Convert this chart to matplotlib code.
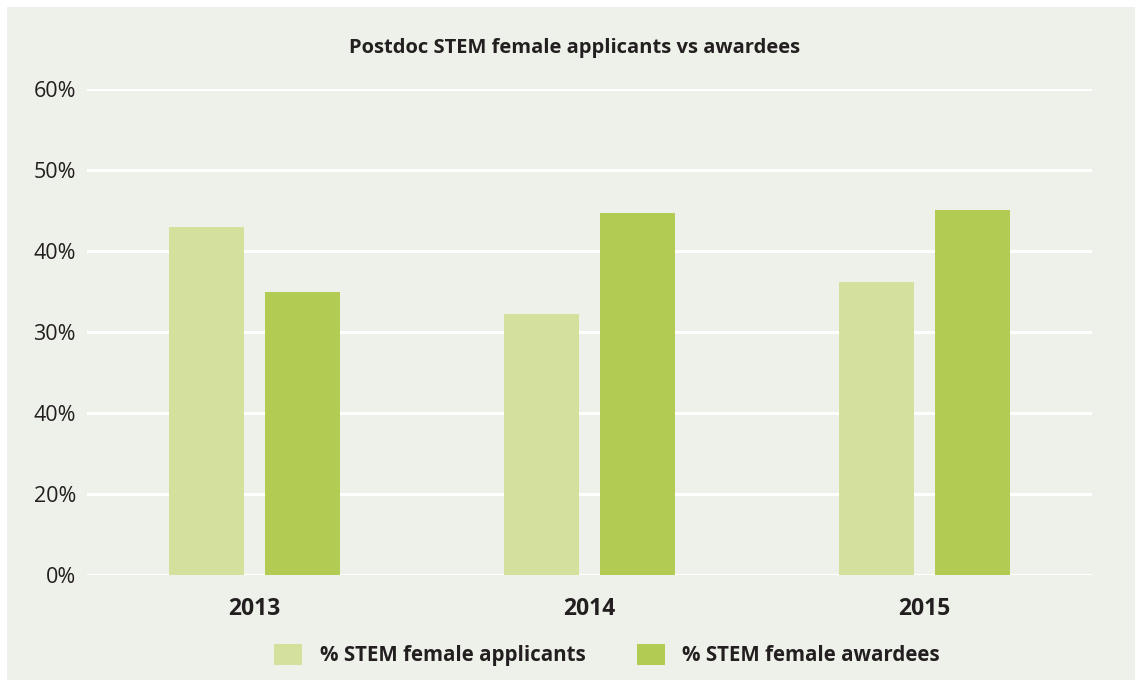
import numpy as np
import matplotlib
matplotlib.use('Agg')
import matplotlib.pyplot as plt
from matplotlib.patches import Patch, Rectangle

years = ["2013", "2014", "2015"]
applicants = [43.0, 32.2, 36.2]
awardees = [34.9, 44.7, 45.1]
ytick_vals = [0, 10, 20, 30, 40, 50, 60]
ytick_labels = ["0%", "20%", "40%", "30%", "40%", "50%", "60%"]
series_names = ["% STEM female applicants", "% STEM female awardees"]

bg = "#eef1e9"
c_app = "#d3e19d"
c_awd = "#b1cb53"
txt = "#231f20"

plt.rcParams['font.family'] = ['Open Sans', 'DejaVu Sans']

fig = plt.figure(figsize=(11.35, 6.8), dpi=100, facecolor=bg)
# thin white margin on the top and left
fig.patches.append(Rectangle((0, 1 - 7/680), 1, 7/680, transform=fig.transFigure,
                             facecolor="white", edgecolor="none"))
fig.patches.append(Rectangle((0, 0), 7/1135, 1, transform=fig.transFigure,
                             facecolor="white", edgecolor="none"))

ax = fig.add_axes([87/1135, 1 - 575/680, (1092 - 87)/1135, (575 - 89)/680])
ax.set_facecolor(bg)

x = np.arange(len(years))
w = 0.225
ax.bar(x - 0.143, applicants, w, color=c_app, zorder=3)
ax.bar(x + 0.143, awardees, w, color=c_awd, zorder=3)

ax.set_xlim(-0.5, 2.5)
ax.set_ylim(0, 60)
ax.set_yticks(ytick_vals)
ax.set_yticklabels(ytick_labels)
ax.set_xticks(x)
ax.set_xticklabels(years, fontweight="bold")
ax.tick_params(axis="both", length=0, colors=txt)
ax.tick_params(axis="y", pad=8, labelsize=15.5)
ax.tick_params(axis="x", pad=16, labelsize=16.5)
ax.yaxis.grid(True, color="white", lw=2.2, zorder=1)
ax.set_axisbelow(True)
for s in ax.spines.values():
    s.set_visible(False)

fig.text(575/1135, 1 - 48/680, "Postdoc STEM female applicants vs awardees",
         ha="center", va="center", fontsize=14.5, fontweight="bold", color=txt)

handles = [Patch(facecolor=c_app, edgecolor="none"), Patch(facecolor=c_awd, edgecolor="none")]
leg = fig.legend(handles, series_names, loc="center", bbox_to_anchor=(607/1135, 1 - 655/680),
                 ncol=2, frameon=False, handlelength=1.35, handleheight=1.2,
                 columnspacing=2.5, handletextpad=0.85, prop={"size": 14.8, "weight": "bold"})
for t in leg.get_texts():
    t.set_color(txt)

plt.savefig("out.png", dpi=100, facecolor=bg)
